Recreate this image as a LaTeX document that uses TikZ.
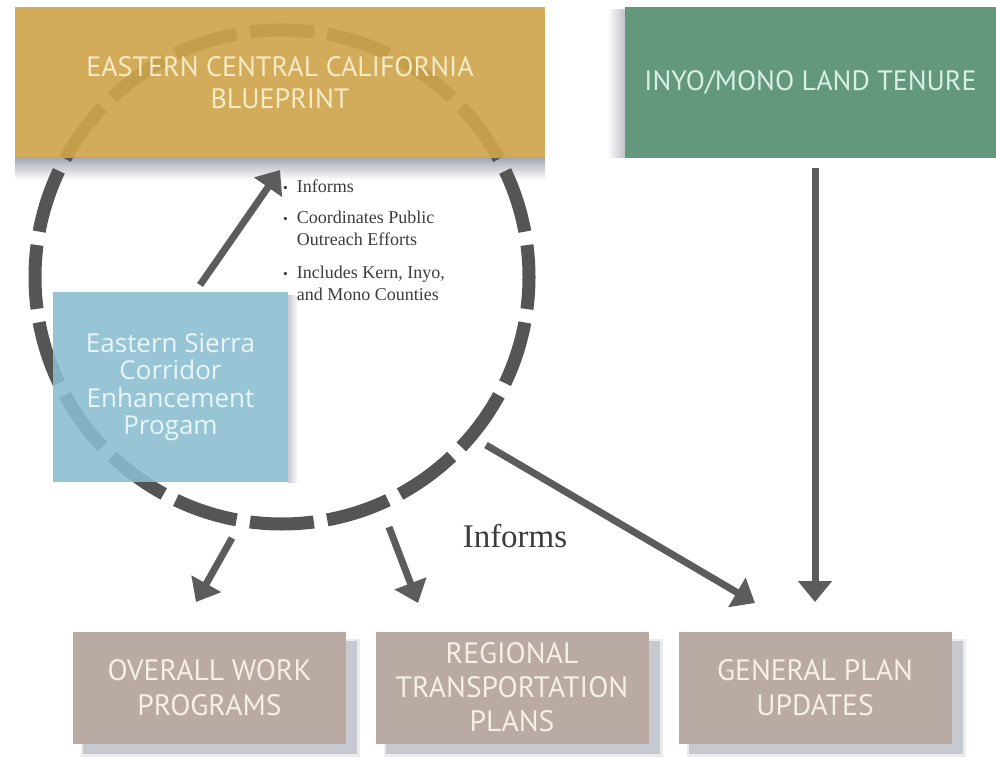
\documentclass[tikz,border=0pt]{standalone}
\usepackage{fontspec}
\setmainfont{Liberation Serif}
\newfontfamily\capsfont{PT Sans}
\newfontfamily\opfont{Open Sans}
\usetikzlibrary{arrows.meta,calc}
\definecolor{goldbox}{RGB}{207,165,76}
\definecolor{goldtxt}{RGB}{247,234,196}
\definecolor{greenbox}{RGB}{100,152,124}
\definecolor{greentxt}{RGB}{214,240,226}
\definecolor{bluebox}{RGB}{138,190,208}
\definecolor{bluetxt}{RGB}{232,246,250}
\definecolor{taupebox}{RGB}{185,170,163}
\definecolor{taupetxt}{RGB}{246,239,232}
\definecolor{arrowgrey}{RGB}{92,92,92}
\definecolor{ringgrey}{RGB}{85,85,85}
\definecolor{shadowgrey}{RGB}{165,168,180}
\definecolor{labelgrey}{RGB}{60,60,60}
\begin{document}
\begin{tikzpicture}[x=1pt,y=-1pt,
  box/.style={inner sep=0pt, align=center, text opacity=1},
  capsbox/.style={box, font=\capsfont\fontsize{28}{32}\selectfont},
  lowbox/.style={box, fill=taupebox, minimum width=273pt, minimum height=112pt,
     text=taupetxt, font=\capsfont\fontsize{29.5}{35}\selectfont},
  arr/.style={line width=7pt, draw=arrowgrey, -{Triangle[width=33pt,length=21pt]}},
  ring/.style={line width=13pt, draw=ringgrey, dash pattern=on 64pt off 13.6pt, dash phase=32pt},
  lowshadow/.style={fill=shadowgrey, fill opacity=0.5, draw=none}
]
\useasboundingbox (0,0) rectangle (996,757);
\fill[white] (0,0) rectangle (996,757);

% shadows
\shade[top color=shadowgrey, bottom color=white] (15,158) rectangle (545,180);
\shade[left color=white, right color=shadowgrey!70] (607,10) rectangle (625,158);
\shade[left color=shadowgrey!60, right color=white] (288,295) rectangle (298,482);
\foreach \cx in {209.5,512,815}{
  \fill[shadowgrey, fill opacity=0.22] (\cx-136.5+8,631+8) rectangle (\cx+136.5+14,743+14);
  \fill[lowshadow] (\cx-136.5+10,631+10) rectangle (\cx+136.5+11,743+11);
}

% dashed ring
\draw[ring] (282,277) circle[radius=247pt];

% boxes
\node[capsbox, fill=goldbox, fill opacity=0.92, minimum width=530pt, minimum height=151pt,
      text=goldtxt] (ecc) at (280,82.5) {EASTERN CENTRAL CALIFORNIA\\BLUEPRINT};
\node[capsbox, fill=greenbox, minimum width=371pt, minimum height=151pt,
      text=greentxt] (imlt) at (810.5,82.5) {INYO/MONO LAND TENURE};
\node[box, fill=bluebox, fill opacity=0.88, minimum width=235pt, minimum height=190pt,
      text=bluetxt, font=\opfont\fontsize{26}{27.5}\selectfont] (escep) at (170.5,387)
      {Eastern Sierra\\Corridor\\Enhancement\\Progam};

\node[lowbox] (owp) at (209.5,687.5) {OVERALL WORK\\PROGRAMS};
\node[lowbox, font=\capsfont\fontsize{29.5}{34}\selectfont] (rtp) at (512,687.5) {REGIONAL\\TRANSPORTATION\\PLANS};
\node[lowbox] (gpu) at (815,687.5) {GENERAL PLAN\\UPDATES};

% bullet list
\node[anchor=base west, inner sep=0pt, text=labelgrey, font=\fontsize{18}{22}\selectfont] (bullets) at (283,192)
 {\begin{tabular}[t]{@{}l@{\hspace{9pt}}l@{}}
  \scalebox{0.75}{\textbullet} & Informs\\[10pt]
  \scalebox{0.75}{\textbullet} & Coordinates Public\\
   & Outreach Efforts\\[10pt]
  \scalebox{0.75}{\textbullet} & Includes Kern, Inyo,\\
   & and Mono Counties
 \end{tabular}};

\node[inner sep=0pt, text=labelgrey, font=\fontsize{33}{36}\selectfont] (informs) at (515,536) {Informs};

% connectors
\coordinate (upS) at (200,285);
\coordinate (upE) at (280,170);
\coordinate (owpS) at (232,538);
\coordinate (owpE) at (196,602);
\coordinate (rtpS) at (389,527);
\coordinate (rtpE) at (418,603);
\coordinate (gpuS) at (486,445);
\coordinate (gpuE) at (755,603);
\coordinate (imltS) at (815,168);
\coordinate (imltE) at (815,602);
\draw[arr] (upS) -- (upE);
\draw[arr] (owpS) -- (owpE);
\draw[arr] (rtpS) -- (rtpE);
\draw[arr] (gpuS) -- (gpuE);
\draw[arr] (imltS) -- (imltE);
\end{tikzpicture}
\end{document}
